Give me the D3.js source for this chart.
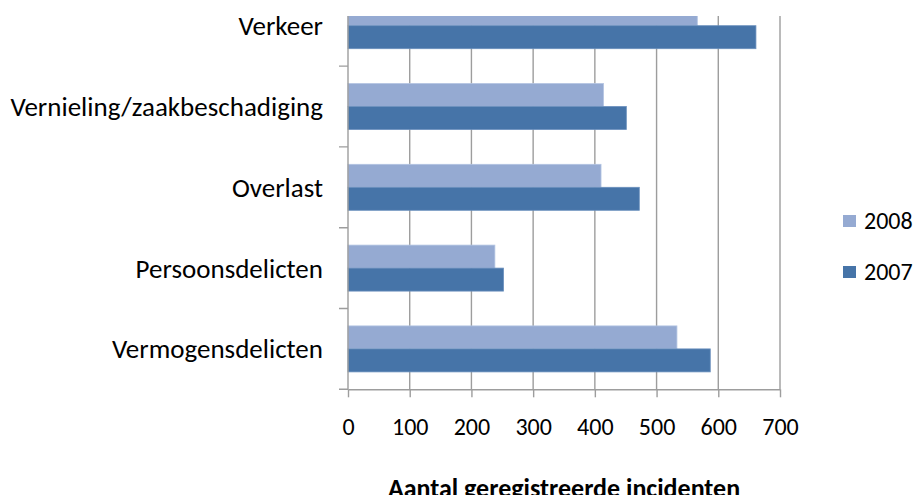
<!DOCTYPE html>
<html>
<head>
<meta charset="utf-8">
<script src="https://cdn.jsdelivr.net/npm/d3@7"></script>
<style>
  html, body { margin: 0; padding: 0; background: #fff; }
  svg text { font-family: Carlito, Calibri, Lato, "Liberation Sans", sans-serif; fill: #000; }
</style>
</head>
<body>
<svg id="chart" width="921" height="495"></svg>
<script>
// categories top to bottom
const categories = ['Verkeer', 'Vernieling/zaakbeschadiging', 'Overlast', 'Persoonsdelicten', 'Vermogensdelicten']
const series = ['2008', '2007']
const values2008 = [566, 414, 410, 238, 533]
const values2007 = [661, 451, 472, 252, 587]
const xTicks = [0, 100, 200, 300, 400, 500, 600, 700]
const xTitle = 'Aantal geregistreerde incidenten'

const colors = { 2008: '#95aad2', 2007: '#4674a8' }
const strokes = { 2008: '#b3c4e2', 2007: '#6a8fbd' }

const svg = d3.select('#chart')
const plot = { left: 348, right: 780, top: -14.7, bottom: 389.3, clipTop: 16 }

const x = d3.scaleLinear().domain([0, 700]).range([plot.left, plot.right])
const y = d3.scaleBand().domain(categories).range([plot.top, plot.bottom]).padding(0)
const ySub = d3.scaleBand().domain(series).range([0, y.bandwidth()])
  .paddingInner(0).paddingOuter(0.757)

const rows = categories.map((c, i) => ({ cat: c, 2008: values2008[i], 2007: values2007[i] }))

svg.append('defs').append('clipPath').attr('id', 'plotClip')
  .append('rect')
  .attr('x', 0).attr('y', plot.clipTop)
  .attr('width', 921).attr('height', plot.bottom - plot.clipTop + 20)

const g = svg.append('g').attr('clip-path', 'url(#plotClip)')

// vertical gridlines
g.selectAll('line.grid')
  .data(xTicks.slice(1))
  .enter()
  .append('line')
  .attr('class', 'grid')
  .attr('x1', (d) => x(d)).attr('x2', (d) => x(d))
  .attr('y1', plot.top).attr('y2', plot.bottom)
  .attr('stroke', '#9d9d9d')
  .attr('stroke-width', 1.4)

// bars
const groups = g.selectAll('g.cat')
  .data(rows)
  .enter()
  .append('g')
  .attr('class', 'cat')
  .attr('transform', (d) => `translate(0,${y(d.cat)})`)

groups.selectAll('rect')
  .data((d) => series.map((s) => ({ key: s, value: d[s] })))
  .enter()
  .append('rect')
  .attr('x', x(0))
  .attr('y', (d) => ySub(d.key))
  .attr('width', (d) => x(d.value) - x(0))
  .attr('height', ySub.bandwidth())
  .attr('fill', (d) => colors[d.key])
  .attr('stroke', (d) => strokes[d.key])
  .attr('stroke-width', 0.8)

// y axis line + category boundary ticks
g.append('line')
  .attr('x1', plot.left).attr('x2', plot.left)
  .attr('y1', plot.top).attr('y2', plot.bottom)
  .attr('stroke', '#9d9d9d').attr('stroke-width', 1.4)

const boundaries = categories.map((c) => y(c) + y.bandwidth())
g.selectAll('line.ytick')
  .data(boundaries)
  .enter()
  .append('line')
  .attr('class', 'ytick')
  .attr('x1', plot.left - 9).attr('x2', plot.left)
  .attr('y1', (d) => d).attr('y2', (d) => d)
  .attr('stroke', '#9d9d9d').attr('stroke-width', 1.4)

// x axis
const xAxis = svg.append('g')
  .attr('transform', `translate(0,${plot.bottom})`)
  .call(d3.axisBottom(x).tickValues(xTicks).tickSize(8).tickPadding(21).tickSizeOuter(0))

xAxis.select('.domain').attr('stroke', '#9d9d9d').attr('stroke-width', 1.4)
xAxis.selectAll('.tick line').attr('stroke', '#9d9d9d').attr('stroke-width', 1.4)
xAxis.selectAll('.tick text')
  .attr('font-size', 24)
  .attr('font-family', null)
  .attr('fill', '#000')

// category labels
svg.selectAll('text.cat')
  .data(categories)
  .enter()
  .append('text')
  .attr('class', 'cat')
  .attr('x', 323)
  .attr('y', (d) => y(d) + y.bandwidth() / 2)
  .attr('dy', '0.35em')
  .attr('text-anchor', 'end')
  .attr('font-size', 27)
  .text((d) => d)

// axis title (cut at the bottom edge, as in the source)
svg.append('text')
  .attr('x', (plot.left + plot.right) / 2)
  .attr('y', 497)
  .attr('text-anchor', 'middle')
  .attr('font-size', 26)
  .attr('font-weight', 'bold')
  .text(xTitle)

// legend
const legend = svg.selectAll('g.legend')
  .data(series)
  .enter()
  .append('g')
  .attr('class', 'legend')
  .attr('transform', (d, i) => `translate(843,${221 + i * 51})`)

legend.append('rect')
  .attr('x', 0).attr('y', -6)
  .attr('width', 13).attr('height', 12)
  .attr('fill', (d) => colors[d])

legend.append('text')
  .attr('x', 21)
  .attr('dy', '0.35em')
  .attr('font-size', 24)
  .text((d) => d)
</script>
</body>
</html>
